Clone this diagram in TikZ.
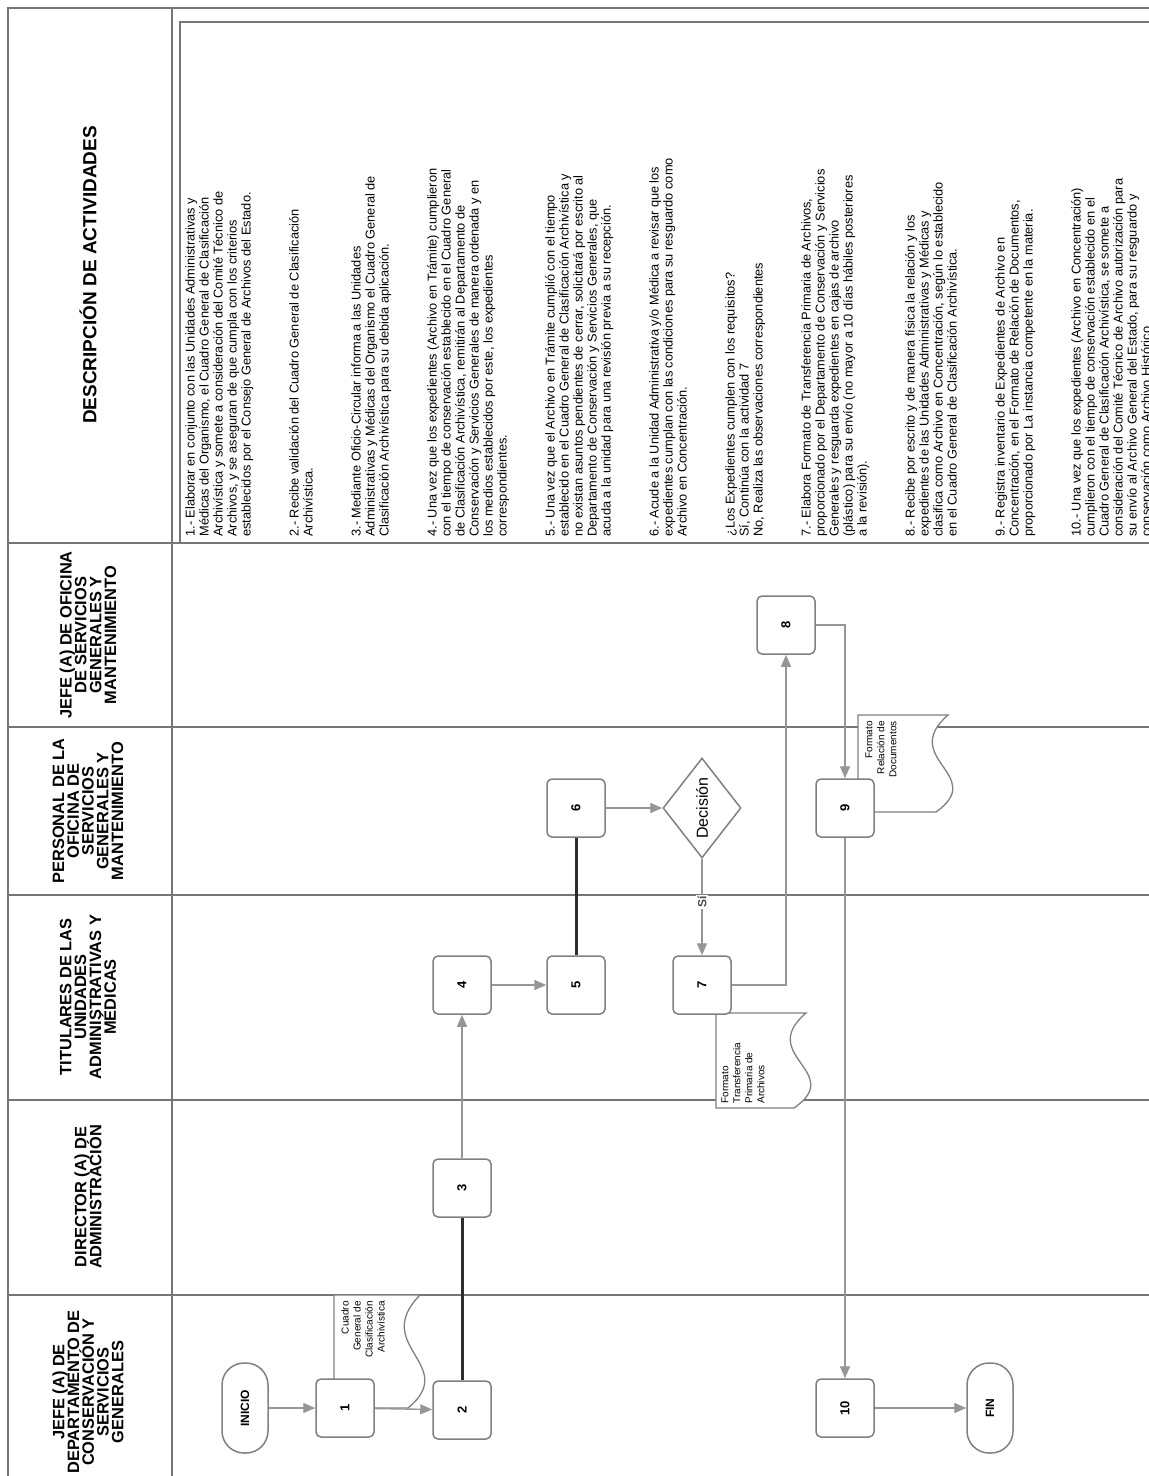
\documentclass[tikz,border=0pt]{standalone}
\usepackage{fontspec}
\setmainfont{Liberation Sans}
\usetikzlibrary{arrows.meta,positioning,shapes.geometric}

\definecolor{framegray}{RGB}{118,118,118}
\definecolor{boxgray}{RGB}{128,128,128}
\definecolor{arrowgray}{RGB}{150,150,150}
\definecolor{linkdark}{RGB}{45,45,45}

\newcommand{\vtext}[1]{\rotatebox{90}{#1}}
\newcommand{\lanefont}{\fontsize{8.2}{7.4}\selectfont\bfseries\lineskiplimit=-10pt}
% document symbol: left x, top y, wavy x, bottom y
\newcommand{\docpath}[4]{(#1,#4) -- (#1,#2) -- (#3,#2)
  .. controls ({#3-50},{#2+0.45*(#4-#2)}) and ({#3+40},{#2+0.62*(#4-#2)}) .. ({#3-12},#4) -- cycle}

\begin{document}
\begin{tikzpicture}[x=0.5pt,y=-0.5pt,
  box/.style={draw=boxgray,line width=0.75pt,fill=white,rounded corners=2.5pt,
              minimum width=29pt,minimum height=29pt,inner sep=0pt,
              font=\fontsize{6.5}{7}\selectfont\bfseries},
  term/.style={draw=boxgray,line width=0.75pt,fill=white,rounded corners=11pt,
              minimum width=23pt,minimum height=45pt,inner sep=0pt,
              font=\fontsize{6}{7}\selectfont\bfseries},
  decide/.style={diamond,draw=boxgray,line width=0.75pt,fill=white,
              minimum width=39pt,minimum height=50pt,inner sep=0pt,
              font=\fontsize{8}{9}\selectfont},
  arr/.style={-{Triangle[length=6pt,width=5pt]},line width=0.7pt,arrowgray},
  link/.style={line width=1.5pt,linkdark},
  rule/.style={line width=0.7pt,framegray},
  doc/.style={draw=boxgray,line width=0.65pt,fill=white},
  doctext/.style={rotate=90,inner sep=0pt,font=\fontsize{5}{6}\selectfont},
  lanehead/.style={rotate=90,align=center,inner sep=0pt,font=\lanefont},
  desc/.style={rotate=90,anchor=north west,align=left,inner sep=0pt,
               font=\fontsize{6.4}{7}\selectfont}
]
  \useasboundingbox (0,0) rectangle (1148,1476);
  \fill[white] (0,0) rectangle (1148,1476);

  % table frame and lanes
  \draw[rule] (8,1490) -- (8,8) -- (1160,8);
  \draw[rule] (172,8) -- (172,1490);
  \draw[rule] (1160,22) -- (180,22) -- (180,543);
  \foreach \y in {543,727,895,1100,1295}
    \draw[rule] (8,\y) -- (1160,\y);

  % lane headers
  \node[rotate=90,inner sep=0pt,font=\fontsize{9.5}{11}\selectfont\bfseries] (hdesc) at (88,275) {DESCRIPCIÓN DE ACTIVIDADES};
  \node[lanehead] (hofic) at (88,635) {JEFE (A) DE OFICINA\\DE SERVICIOS\\GENERALES Y\\MANTENIMIENTO};
  \node[lanehead] (hpers) at (88,811) {PERSONAL DE LA\\OFICINA DE\\SERVICIOS\\GENERALES Y\\MANTENIMIENTO};
  \node[lanehead] (htit)  at (88,997) {TITULARES DE LAS\\UNIDADES\\ADMINISTRATIVAS Y\\MÉDICAS};
  \node[lanehead] (hdir)  at (88,1197) {DIRECTOR (A) DE\\ADMINISTRACIÓN};
  \node[lanehead] (hjefe) at (88,1392) {JEFE (A) DE\\DEPARTAMENTO DE\\CONSERVACIÓN Y\\SERVICIOS\\GENERALES};

  % activity descriptions
  \node[desc] (acts) at (185,537) {%
    1.- Elaborar en conjunto con las Unidades Administrativas y\\
    Médicas del Organismo, el Cuadro General de Clasificación\\
    Archivística y somete a consideración del Comité Técnico de\\
    Archivos, y se aseguran de que cumpla con los criterios\\
    establecidos por el Consejo General de Archivos del Estado.\\[17pt]
    2.- Recibe validación del Cuadro General de Clasificación\\
    Archivística.\\[17pt]
    3.- Mediante Oficio-Circular informa a las Unidades\\
    Administrativas y Médicas del Organismo el Cuadro General de\\
    Clasificación Archivística para su debida aplicación.\\[17pt]
    4.- Una vez que los expedientes (Archivo en Trámite) cumplieron\\
    con el tiempo de conservación establecido en el Cuadro General\\
    de Clasificación Archivística, remitirán al Departamento de\\
    Conservación y Servicios Generales de manera ordenada y en\\
    los medios establecidos por este, los expedientes\\
    correspondientes.\\[17pt]
    5.- Una vez que el Archivo en Trámite cumplió con el tiempo\\
    establecido en el Cuadro General de Clasificación Archivística y\\
    no existan asuntos pendientes de cerrar, solicitará por escrito al\\
    Departamento de Conservación y Servicios Generales, que\\
    acuda a la unidad para una revisión previa a su recepción.\\[17pt]
    6.- Acude a la Unidad Administrativa y/o Médica a revisar que los\\
    expedientes cumplan con las condiciones para su resguardo como\\
    Archivo en Concentración.\\[17pt]
    ¿Los Expedientes cumplen con los requisitos?\\
    Sí, Continúa con la actividad 7\\
    No, Realiza las observaciones correspondientes\\[17pt]
    7.- Elabora Formato de Transferencia Primaria de Archivos,\\
    proporcionado por el Departamento de Conservación y Servicios\\
    Generales y resguarda expedientes en cajas de archivo\\
    (plástico) para su envío (no mayor a 10 días hábiles posteriores\\
    a la revisión).\\[17pt]
    8.- Recibe por escrito y de manera física la relación y los\\
    expedientes de las Unidades Administrativas y Médicas y\\
    clasifica como Archivo en Concentración, según lo establecido\\
    en el Cuadro General de Clasificación Archivística.\\[17pt]
    9.- Registra inventario de Expedientes de Archivo en\\
    Concentración, en el Formato de Relación de Documentos,\\
    proporcionado por La instancia competente en la materia.\\[17pt]
    10.- Una vez que los expedientes (Archivo en Concentración)\\
    cumplieron con el tiempo de conservación establecido en el\\
    Cuadro General de Clasificación Archivística, se somete a\\
    consideración del Comité Técnico de Archivo autorización para\\
    su envío al Archivo General del Estado, para su resguardo y\\
    conservación como Archivo Histórico.};

  % documents
  \draw[doc] \docpath{334}{1295}{420}{1408};
  \node[doctext,anchor=north east,align=right] (d1) at (341,1301) {Cuadro\\General de\\Clasificación\\Archivística};
  \draw[doc] \docpath{716}{1013}{806}{1108};
  \node[doctext,anchor=north west,align=left] (d7) at (721,1104) {Formato\\Transferencia\\Primaria de\\Archivos};
  \draw[doc] \docpath{858}{715}{948}{812};
  \node[doctext,anchor=north east,align=right] (d9) at (865,721) {Formato\\Relación de\\Documentos};

  % flow
  \node[term] (inicio) at (245,1408) {\vtext{INICIO}};
  \node[box] (n1) at (345,1408) {\vtext{1}};
  \node[box] (n2) at (462,1410) {\vtext{2}};
  \node[box] (n3) at (462,1188) {\vtext{3}};
  \node[box] (n4) at (462,985) {\vtext{4}};
  \node[box] (n5) at (576,985) {\vtext{5}};
  \node[box] (n6) at (576,808) {\vtext{6}};
  \node[decide] (dec) at (702,808) {\vtext{Decisión}};
  \node[box] (n7) at (702,985) {\vtext{7}};
  \node[box] (n8) at (786,625) {\vtext{8}};
  \node[box] (n9) at (845,808) {\vtext{9}};
  \node[box] (n10) at (845,1408) {\vtext{10}};
  \node[term] (fin) at (990,1408) {\vtext{FIN}};

  \draw[arr] (inicio) -- (n1);
  \draw[arr] (n1) -- (n2);
  \draw[link] (n2) -- (n3);
  \draw[arr] (n3) -- (n4);
  \draw[arr] (n4) -- (n5);
  \draw[link] (n5) -- (n6);
  \draw[arr] (n6) -- (dec);
  \draw[arr] (dec) -- node[pos=0.45,fill=white,inner sep=0.6pt,font=\fontsize{6}{7}\selectfont\bfseries,text=black!70] {\vtext{Sí}} (n7);
  \draw[arr] (n7.east) -| (n8.south);
  \draw[arr] (n8.east) -| (n9.north);
  \draw[arr] (n9) -- (n10);
  \draw[arr] (n10) -- (fin);
\end{tikzpicture}
\end{document}
